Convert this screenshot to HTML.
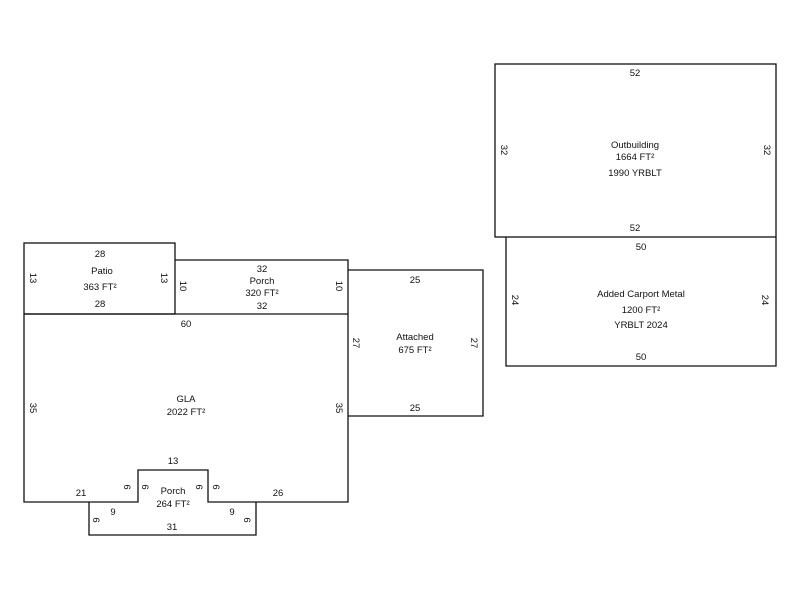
<!DOCTYPE html>
<html><head><style>
body{margin:0;background:#fff;}
svg text{font-family:"Liberation Sans",Arial,sans-serif;font-size:9.5px;fill:#111;}
</style></head><body>
<svg width="800" height="600" viewBox="0 0 800 600" xmlns="http://www.w3.org/2000/svg">
<g fill="none" stroke="#111" stroke-width="1.3">
<rect x="24" y="243" width="151" height="71"/>
<polyline points="175,260 348,260 348,314"/>
<polyline points="24,314 348,314 348,502 208,502 208,470 138,470 138,502 24,502 24,314"/>
<polyline points="89,502 89,535 256,535 256,502"/>
<polyline points="348,270 483,270 483,416 348,416"/>
<rect x="495" y="64" width="281" height="173"/>
<polyline points="506,237 506,366 776,366 776,237"/>
</g>
<g text-anchor="middle">
<text x="100" y="257">28</text>
<text x="102" y="274">Patio</text>
<text x="100" y="290">363 FT²</text>
<text x="100" y="307">28</text>
<text transform="translate(30,278) rotate(90)">13</text>
<text transform="translate(161,278) rotate(90)">13</text>
<text x="262" y="272">32</text>
<text x="262" y="284">Porch</text>
<text x="262" y="296">320 FT²</text>
<text x="262" y="309">32</text>
<text transform="translate(180,286) rotate(90)">10</text>
<text transform="translate(336,286) rotate(90)">10</text>
<text x="186" y="327">60</text>
<text x="186" y="402">GLA</text>
<text x="186" y="415">2022 FT²</text>
<text transform="translate(30,408) rotate(90)">35</text>
<text transform="translate(336,408) rotate(90)">35</text>
<text x="173" y="464">13</text>
<text x="81" y="496">21</text>
<text x="278" y="496">26</text>
<text x="173" y="494">Porch</text>
<text x="173" y="507">264 FT²</text>
<text transform="translate(124,487) rotate(90)">6</text>
<text transform="translate(142,487) rotate(90)">6</text>
<text transform="translate(196,487) rotate(90)">6</text>
<text transform="translate(213,487) rotate(90)">6</text>
<text transform="translate(93,520) rotate(90)">6</text>
<text transform="translate(244,520) rotate(90)">6</text>
<text x="113" y="515">9</text>
<text x="232" y="515">9</text>
<text x="172" y="530">31</text>
<text x="415" y="283">25</text>
<text x="415" y="340">Attached</text>
<text x="415" y="353">675 FT²</text>
<text x="415" y="411">25</text>
<text transform="translate(353,343) rotate(90)">27</text>
<text transform="translate(471,343) rotate(90)">27</text>
<text x="635" y="76">52</text>
<text x="635" y="148">Outbuilding</text>
<text x="635" y="160">1664 FT²</text>
<text x="635" y="176">1990 YRBLT</text>
<text x="635" y="231">52</text>
<text transform="translate(501,150) rotate(90)">32</text>
<text transform="translate(764,150) rotate(90)">32</text>
<text x="641" y="250">50</text>
<text x="641" y="297">Added Carport Metal</text>
<text x="641" y="313">1200 FT²</text>
<text x="641" y="328">YRBLT 2024</text>
<text x="641" y="360">50</text>
<text transform="translate(512,300) rotate(90)">24</text>
<text transform="translate(762,300) rotate(90)">24</text>
</g>
</svg>
</body></html>
